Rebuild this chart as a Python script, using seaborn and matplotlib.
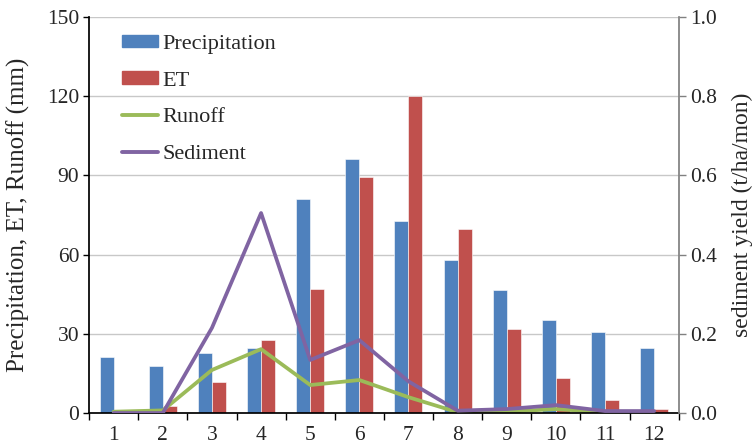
import numpy as np
import pandas as pd
import matplotlib
matplotlib.use("Agg")
import matplotlib.pyplot as plt
import seaborn as sns
from matplotlib.ticker import MultipleLocator, FormatStrFormatter
from matplotlib.patches import Patch
from matplotlib.lines import Line2D

months = [str(m) for m in range(1, 13)]
precipitation = [21.2, 17.8, 22.9, 24.7, 81.1, 96.2, 72.7, 58.0, 46.6, 35.2, 30.6, 24.6]
et = [1.0, 2.5, 11.7, 27.6, 46.9, 89.5, 120.0, 69.6, 31.8, 13.2, 4.9, 1.5]
runoff = [0.5, 1.0, 16.3, 24.2, 10.6, 12.5, 6.0, 0.3, 0.5, 1.5, 0.3, 0.2]
sediment = [0.0, 0.0, 0.215, 0.505, 0.134, 0.184, 0.08, 0.006, 0.01, 0.02, 0.005, 0.005]

c_p, c_et, c_ro, c_sed = "#4F81BD", "#C0504D", "#9BBB59", "#8064A2"

sns.set_theme(style="white")
plt.rcParams['font.family'] = ['Liberation Serif', 'DejaVu Serif']

bars = pd.DataFrame({
    'Month': months * 2,
    'Value': precipitation + et,
    'Series': ['Precipitation'] * 12 + ['ET'] * 12,
})
pos = np.arange(len(months))

fig = plt.figure(figsize=(7.55, 4.47), dpi=100)
ax = fig.add_axes([0.118, 0.076, 0.781, 0.886])

sns.barplot(data=bars, x='Month', y='Value', hue='Series', order=months,
            palette={'Precipitation': c_p, 'ET': c_et}, width=0.57,
            saturation=1, gap=0, ax=ax, legend=False,
            edgecolor='white', linewidth=0.4)
sns.lineplot(x=pos, y=runoff, color=c_ro, lw=2.7, ax=ax)

ax.set_xlim(-0.5, 11.5)
ax.set_ylim(0, 150)
ax.yaxis.set_major_locator(MultipleLocator(30))
ax.grid(axis='y', color='#c8c8c8', lw=1)
ax.set_axisbelow(True)
ax.set_xlabel('')
ax.set_ylabel('Precipitation, ET, Runoff (mm)', fontsize=18, labelpad=12)
ax.tick_params(axis='y', direction='out', length=4, width=1, color='black',
               labelsize=15.5, left=True, pad=3)
ax.set_xticks(pos)
ax.set_xticklabels(months)
ax.set_xticks(np.arange(-0.5, 12, 1), minor=True)
ax.tick_params(axis='x', which='major', length=0, labelsize=15.5, pad=9)
ax.tick_params(axis='x', which='minor', direction='out', length=5, width=1,
               color='black', bottom=True)
for s in ['top', 'right']:
    ax.spines[s].set_visible(False)
ax.spines['left'].set_color('black')
ax.spines['bottom'].set_color('black')

ax2 = ax.twinx()
sns.lineplot(x=pos, y=sediment, color=c_sed, lw=2.7, ax=ax2)
ax2.set_ylim(0, 1.0)
ax2.yaxis.set_major_locator(MultipleLocator(0.2))
ax2.yaxis.set_major_formatter(FormatStrFormatter('%.1f'))
ax2.set_ylabel('sediment yield (t/ha/mon)', fontsize=17, labelpad=11)
ax2.tick_params(axis='y', direction='out', length=5, width=1, color='#808080',
                labelsize=15.5, right=True, pad=3)
for s in ['top', 'left', 'bottom']:
    ax2.spines[s].set_visible(False)
ax2.spines['right'].set_color('#808080')
ax2.grid(False)

handles = [Patch(color=c_p, label='Precipitation'),
           Patch(color=c_et, label='ET'),
           Line2D([], [], color=c_ro, lw=2.8, label='Runoff'),
           Line2D([], [], color=c_sed, lw=2.8, label='Sediment')]
ax.legend(handles=handles, loc='upper left', bbox_to_anchor=(0.025, 1.0),
          frameon=False, fontsize=16, handlelength=1.65, handleheight=0.5,
          labelspacing=0.78, handletextpad=0.2, borderpad=0.3)

fig.savefig('out.png', dpi=100)
